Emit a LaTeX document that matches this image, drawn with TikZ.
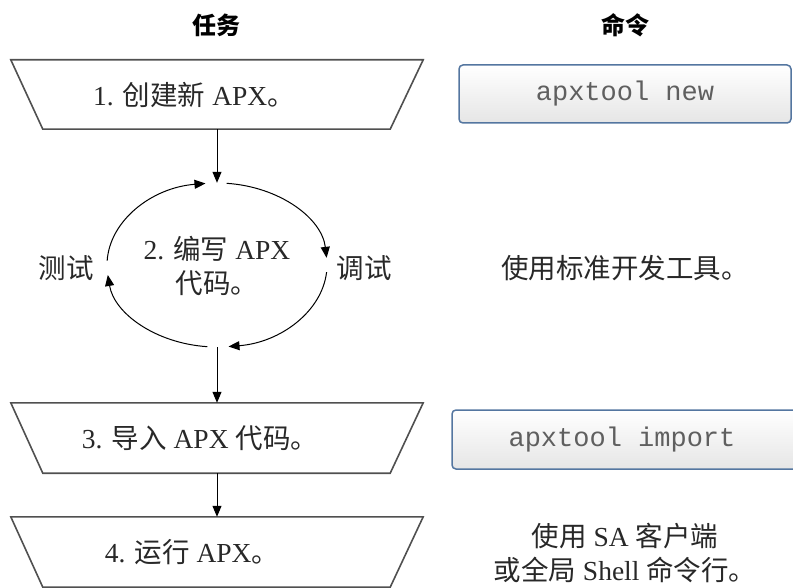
\documentclass[tikz,border=0pt]{standalone}
\usepackage{fontspec}
\setmainfont{Liberation Serif}
\setmonofont{Liberation Mono}
\newfontfamily\cjk{Noto Sans CJK SC}
\usetikzlibrary{arrows.meta,shapes.geometric}
\definecolor{boxborder}{RGB}{84,118,160}
\definecolor{trapcol}{RGB}{80,80,80}
\definecolor{monotext}{RGB}{95,95,95}
\definecolor{txt}{RGB}{40,40,40}
\begin{document}
\begin{tikzpicture}[x=1pt,y=-1pt,
  taskshape/.style={minimum width=412pt, minimum height=69pt, inner sep=0pt},
  trapline/.style={draw=trapcol, line width=1.6pt},
  tasktext/.style={font=\fontsize{27.5}{30}\selectfont, text=txt, inner sep=0pt},
  cmdbox/.style={draw=boxborder, line width=1.5pt, rounded corners=4pt, top color=white, bottom color=black!10, inner sep=0pt, font=\ttfamily\fontsize{27}{30}\selectfont, text=monotext},
  flow/.style={-{Triangle[length=11pt,width=9pt]}, line width=1pt},
  lbl/.style={font=\fontsize{27.5}{34}\selectfont, align=center, text=txt, inner sep=0pt},
  head/.style={font=\cjk\bfseries\fontsize{24}{28}\selectfont, inner sep=0pt}
]
\useasboundingbox (0,0) rectangle (793,588);

% headers
\node[head] (h1) at (216,25) {任务};
\node[head] (h2) at (625,25) {命令};

% task shapes
\node[taskshape] (t1) at (217,94.5) {};
\node[taskshape, minimum height=70pt] (t3) at (217,438) {};
\node[taskshape, minimum height=70pt] (t4) at (217,552) {};
\foreach \t in {t1,t3,t4}{
  \draw[trapline] (\t.north west) -- (\t.north east) -- ([xshift=-33pt]\t.south east) -- ([xshift=32pt]\t.south west) -- cycle;
}
\node[tasktext] (t1txt) at (194,94.5) {1. {\cjk 创建新} APX{\cjk 。}};
\node[tasktext] (t3txt) at (200,438) {3. {\cjk 导入} APX {\cjk 代码。}};
\node[tasktext] (t4txt) at (192,552) {4. {\cjk 运行} APX{\cjk 。}};

% cycle
\node[ellipse, minimum width=220pt, minimum height=164pt, inner sep=0pt] (e) at (217,265) {};
\node[lbl] (write) at (217,266) {2. {\cjk 编写} APX\\{\cjk 代码。}};
\node[lbl] (test) at (66,268) {\cjk 测试};
\node[lbl] (debug) at (364,268) {\cjk 调试};

\draw[flow] ([shift={(85:110pt and 82pt)}]e.center) arc[start angle=85, end angle=5, x radius=110pt, y radius=82pt];
\draw[flow] ([shift={(-5:110pt and 82pt)}]e.center) arc[start angle=-5, end angle=-84, x radius=110pt, y radius=82pt];
\draw[flow] ([shift={(-95:110pt and 82pt)}]e.center) arc[start angle=-95, end angle=-173, x radius=110pt, y radius=82pt];
\draw[flow] ([shift={(177:110pt and 82pt)}]e.center) arc[start angle=177, end angle=96, x radius=110pt, y radius=82pt];

% flow arrows
\draw[flow] (t1.south) -- (e.north);
\draw[flow] (e.south) -- (t3.north);
\draw[flow] (t3.south) -- (t4.north);

% commands
\node[cmdbox, minimum width=332pt, minimum height=58pt] (c1) at (625,94) {apxtool new};
\node[cmdbox, minimum width=346pt, minimum height=59pt] (c3) at (625,439.5) {apxtool import\hspace*{6pt}};
\node[lbl] (c2) at (625,268) {\cjk 使用标准开发工具。};
\node[lbl] (c4) at (625,553) {{\cjk 使用} SA {\cjk 客户端}\\{\cjk 或全局} Shell {\cjk 命令行。}};
\end{tikzpicture}
\end{document}
